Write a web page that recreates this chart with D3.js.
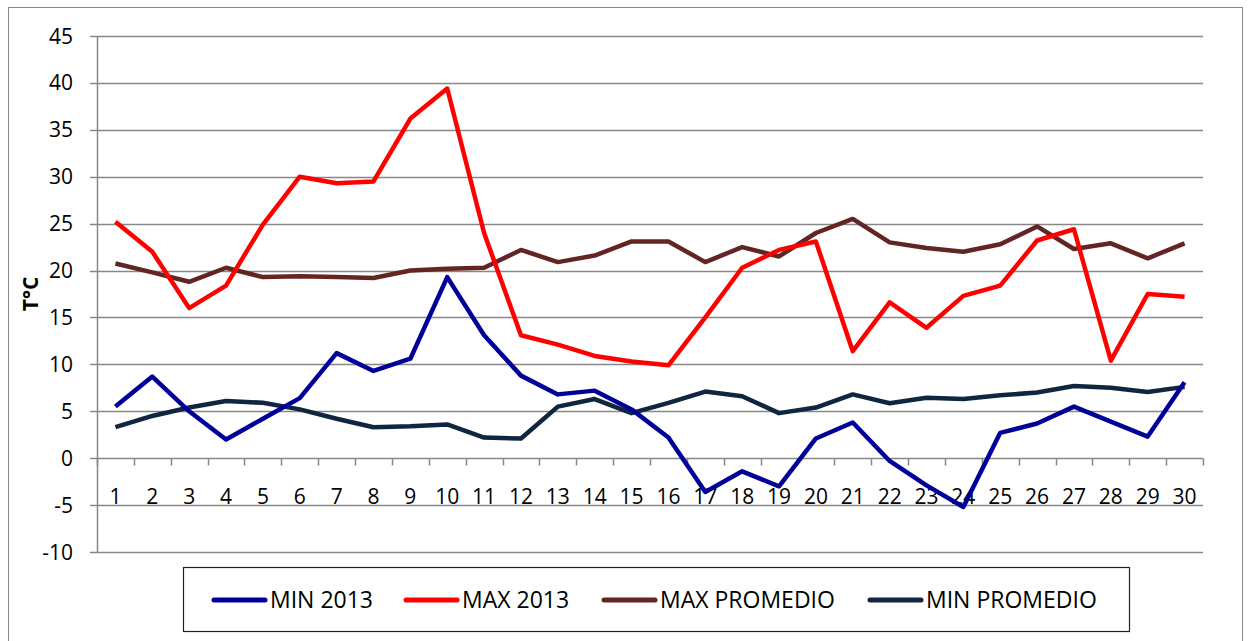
<!DOCTYPE html>
<html>
<head>
<meta charset="utf-8">
<script src="https://cdn.jsdelivr.net/npm/d3@7"></script>
<style>
  body { margin: 0; background: #fff; }
  svg { display: block; }
</style>
</head>
<body>
<div id="chart"><svg></svg></div>
<script>
// days of the month
const days = d3.range(1, 31);

const min2013 = [5.5, 8.7, 5.0, 2.0, 4.2, 6.4, 11.2, 9.3, 10.6, 19.3,
                 13.1, 8.8, 6.8, 7.2, 5.2, 2.2, -3.6, -1.4, -3.0, 2.1,
                 3.8, -0.3, -2.9, -5.2, 2.7, 3.7, 5.5, 3.9, 2.3, 8.1];
const max2013 = [25.2, 22.0, 16.0, 18.4, 24.9, 30.0, 29.3, 29.5, 36.2, 39.4,
                 24.0, 13.1, 12.1, 10.9, 10.3, 9.9, 15.0, 20.3, 22.2, 23.1,
                 11.4, 16.6, 13.9, 17.3, 18.4, 23.2, 24.4, 10.4, 17.5, 17.2];
const maxPromedio = [20.75, 19.8, 18.8, 20.3, 19.3, 19.4, 19.3, 19.2, 20.0, 20.2,
                     20.3, 22.2, 20.9, 21.6, 23.1, 23.1, 20.9, 22.5, 21.5, 24.0,
                     25.5, 23.0, 22.4, 22.0, 22.8, 24.7, 22.3, 22.9, 21.3, 22.9];
const minPromedio = [3.3, 4.5, 5.4, 6.1, 5.9, 5.2, 4.2, 3.3, 3.4, 3.6,
                     2.2, 2.1, 5.5, 6.3, 4.8, 5.9, 7.1, 6.6, 4.8, 5.4,
                     6.8, 5.85, 6.45, 6.3, 6.7, 7.0, 7.7, 7.5, 7.05, 7.6];

const seriesNames = ["MIN 2013", "MAX 2013", "MAX PROMEDIO", "MIN PROMEDIO"];
const seriesColors = ["#000099", "#ff0000", "#632523", "#10253f"];
const yTicks = d3.range(-10, 46, 5);

let svg = d3.select("#chart svg").attr("width", 1251).attr("height", 641);

// outer chart border
svg.append("rect")
    .attr("x", 8.5).attr("y", 7.5)
    .attr("width", 1234).attr("height", 650)
    .attr("fill", "none").attr("stroke", "#888").attr("stroke-width", 1);

let margin = {top: 36, left: 97, right: 1203, bottom: 552};

let x = d3.scaleBand().domain(days).range([margin.left, margin.right]);
let y = d3.scaleLinear().domain([-10, 45]).range([margin.bottom, margin.top]);

let font = "'Open Sans', 'Noto Sans', sans-serif";

// gridlines
svg.append("g")
    .selectAll("line")
    .data(yTicks)
    .enter().append("line")
    .attr("x1", margin.left - 7).attr("x2", margin.right)
    .attr("y1", d => Math.round(y(d)) + 0.5).attr("y2", d => Math.round(y(d)) + 0.5)
    .attr("stroke", "#878787").attr("stroke-width", 1.5);

// y axis line
svg.append("line")
    .attr("x1", margin.left + 0.5).attr("x2", margin.left + 0.5)
    .attr("y1", margin.top).attr("y2", margin.bottom)
    .attr("stroke", "#878787").attr("stroke-width", 1.5);

// y labels
svg.append("g")
    .selectAll("text")
    .data(yTicks)
    .enter().append("text")
    .attr("x", 73)
    .attr("y", d => y(d))
    .attr("dy", "0.36em")
    .attr("text-anchor", "end")
    .attr("font-family", font)
    .attr("font-size", 21)
    .text(d => d);

// y title
svg.append("text")
    .attr("transform", "translate(38," + y(17.5) + ") rotate(-90)")
    .attr("text-anchor", "middle")
    .attr("font-family", font)
    .attr("font-size", 21)
    .attr("font-weight", "bold")
    .text("T°C");

// x axis at 0 with ticks between categories
let y0 = Math.round(y(0)) + 0.5;
let xTickPos = days.map(d => x(d)).concat([margin.right]);
svg.append("g")
    .selectAll("line")
    .data(xTickPos)
    .enter().append("line")
    .attr("x1", d => Math.round(d) + 0.5).attr("x2", d => Math.round(d) + 0.5)
    .attr("y1", y0).attr("y2", y0 + 7)
    .attr("stroke", "#878787").attr("stroke-width", 1.5);

svg.append("g")
    .selectAll("text")
    .data(days)
    .enter().append("text")
    .attr("x", d => x(d) + x.bandwidth() / 2)
    .attr("y", y0 + 45)
    .attr("text-anchor", "middle")
    .attr("font-family", font)
    .attr("font-size", 21)
    .text(d => d);

// series lines
let allSeries = [min2013, max2013, maxPromedio, minPromedio];
let line = d3.line()
    .x((d, i) => x(days[i]) + x.bandwidth() / 2)
    .y(d => y(d));

// draw order: promedio lines underneath
[3, 2, 0, 1].forEach(k => {
    svg.append("path")
        .datum(allSeries[k])
        .attr("d", line)
        .attr("fill", "none")
        .attr("stroke", seriesColors[k])
        .attr("stroke-width", 4.5)
        .attr("stroke-linejoin", "round");
});

// legend
svg.append("rect")
    .attr("x", 183.5).attr("y", 567.5)
    .attr("width", 946).attr("height", 64)
    .attr("fill", "#fff").attr("stroke", "#222").attr("stroke-width", 1.2);

let legendX = [212, 404, 602, 868];
let legend = svg.append("g")
    .selectAll("g")
    .data(seriesNames)
    .enter().append("g")
    .attr("transform", (d, i) => "translate(" + legendX[i] + ",600)");

legend.append("line")
    .attr("x1", 2).attr("x2", 53)
    .attr("stroke", (d, i) => seriesColors[i])
    .attr("stroke-width", 5)
    .attr("stroke-linecap", "round");

legend.append("text")
    .attr("x", 58)
    .attr("dy", "0.36em")
    .attr("font-family", font)
    .attr("font-size", 23)
    .text(d => d);
</script>
</body>
</html>
